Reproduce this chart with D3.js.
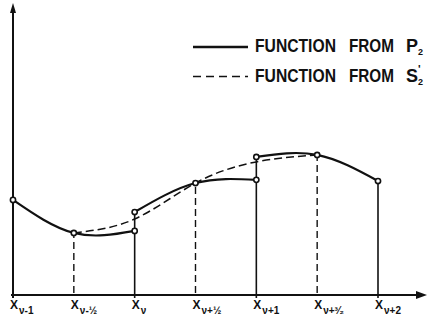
<!DOCTYPE html>
<html>
<head>
<meta charset="utf-8">
<script src="https://cdn.jsdelivr.net/npm/d3@7"></script>
<style>
  body { margin: 0; background: #fff; }
  svg { display: block; }
  text { font-family: "Liberation Sans", Arial, sans-serif; font-weight: bold; fill: #111; }
</style>
</head>
<body>
<svg class="chart"></svg>
<script>
const width = 432;
const height = 329;

// nodes on the x axis, in steps of h (x_{v-1} = 0)
const nodes = [0, 0.5, 1, 1.5, 2, 2.5, 3];
const nodeSubs = ['ν-1', 'ν-½', 'ν', 'ν+½', 'ν+1', 'ν+³⁄₂', 'ν+2'];

// function from P2: three quadratic pieces, with jumps at x_v and x_{v+1}
const pieceX = [[0, 0.5, 1], [1, 1.5, 2], [2, 2.5, 3]];
const pieceY = [[32.8, 21.4, 22.1], [28.6, 38.6, 39.7], [47.6, 48.3, 39.3]];

// function from S'2 (dashed)
const splineX = [0.5, 1, 1.5, 2, 2.5];
const splineY = [21.4, 26.2, 38.6, 45.9, 48.3];

const legendWords = ['FUNCTION', 'FROM'];
const legendSymbols = ['P', 'S'];

const chart = d3.select('.chart')
    .attr('width', width)
    .attr('height', height);

const xScale = d3.scaleLinear().domain([0, 3]).range([13, 378]);
const yScale = d3.scaleLinear().domain([0, 100]).range([295, 5]);

const line = d3.line()
    .x(d => xScale(d[0]))
    .y(d => yScale(d[1]))
    .curve(d3.curveNatural);

/*----- AXES ------*/
chart.append('line')
    .attr('x1', xScale(0)).attr('x2', xScale(0))
    .attr('y1', yScale(0) + 3).attr('y2', 10)
    .attr('stroke', '#111').attr('stroke-width', 2);
chart.append('path')
    .attr('d', `M${xScale(0)},3 L${xScale(0) - 3},13 L${xScale(0) + 3},13 Z`)
    .attr('fill', '#111');

chart.append('line')
    .attr('x1', xScale(0) - 2).attr('x2', 420)
    .attr('y1', yScale(0)).attr('y2', yScale(0))
    .attr('stroke', '#111').attr('stroke-width', 2);
chart.append('path')
    .attr('d', `M427,${yScale(0)} L416,${yScale(0) - 4} L416,${yScale(0) + 4} Z`)
    .attr('fill', '#111');

/*----- VERTICALS ------*/
// top value at each node (highest point of the P2 pieces)
const topAt = x => d3.max(pieceX.flatMap((xs, i) => xs.map((v, j) => v === x ? pieceY[i][j] : -Infinity)));

chart.selectAll('.vert')
    .data(nodes.slice(1))
    .enter()
    .append('line')
    .attr('class', 'vert')
    .attr('x1', d => xScale(d)).attr('x2', d => xScale(d))
    .attr('y1', d => Number.isInteger(d) ? yScale(0) + 3 : yScale(0) - 2)
    .attr('y2', d => yScale(topAt(d)))
    .attr('stroke', '#111')
    .attr('stroke-width', d => Number.isInteger(d) ? 1.6 : 1.4)
    .attr('stroke-dasharray', d => Number.isInteger(d) ? null : '7,4');

/*----- CURVES ------*/
chart.append('path')
    .attr('d', line(d3.zip(splineX, splineY)))
    .attr('fill', 'none')
    .attr('stroke', '#111')
    .attr('stroke-width', 1.5)
    .attr('stroke-dasharray', '8,4');

chart.selectAll('.piece')
    .data(pieceX.map((xs, i) => d3.zip(xs, pieceY[i])))
    .enter()
    .append('path')
    .attr('class', 'piece')
    .attr('d', line)
    .attr('fill', 'none')
    .attr('stroke', '#111')
    .attr('stroke-width', 2.2);

chart.selectAll('.node')
    .data(pieceX.flatMap((xs, i) => d3.zip(xs, pieceY[i])))
    .enter()
    .append('circle')
    .attr('class', 'node')
    .attr('cx', d => xScale(d[0]))
    .attr('cy', d => yScale(d[1]))
    .attr('r', 2.6)
    .attr('fill', '#fff')
    .attr('stroke', '#111')
    .attr('stroke-width', 1.6);

/*----- TICK LABELS ------*/
const tickLabels = chart.selectAll('.tick-label')
    .data(nodes)
    .enter()
    .append('text')
    .attr('class', 'tick-label')
    .attr('x', d => xScale(d) - 3)
    .attr('y', 309)
    .style('font-size', '12px');
tickLabels.append('tspan').text('X');
tickLabels.append('tspan')
    .attr('dx', 1)
    .attr('dy', 5)
    .style('font-size', '10px')
    .text((d, i) => nodeSubs[i]);

/*----- LEGEND ------*/
const legend = chart.selectAll('.legend')
    .data(legendSymbols)
    .enter()
    .append('g')
    .attr('class', 'legend')
    .attr('transform', (d, i) => `translate(0, ${52 + i * 29.5})`);

legend.append('line')
    .attr('x1', 193).attr('x2', 248)
    .attr('y1', -5).attr('y2', -5)
    .attr('stroke', '#111')
    .attr('stroke-width', (d, i) => i === 0 ? 2.4 : 1.5)
    .attr('stroke-dasharray', (d, i) => i === 0 ? null : '8,5');

legend.append('text')
    .attr('x', 255)
    .attr('textLength', 81)
    .attr('lengthAdjust', 'spacingAndGlyphs')
    .style('font-size', '18px')
    .text(legendWords[0]);
legend.append('text')
    .attr('x', 349)
    .attr('textLength', 45)
    .attr('lengthAdjust', 'spacingAndGlyphs')
    .style('font-size', '18px')
    .text(legendWords[1]);
legend.append('text')
    .attr('x', 406)
    .style('font-size', '18px')
    .text(d => d);
legend.append('text')
    .attr('x', 418)
    .attr('y', 3)
    .style('font-size', '9px')
    .text('2');
legend.filter((d, i) => i === 1)
    .append('text')
    .attr('x', 418)
    .attr('y', -9)
    .style('font-size', '11px')
    .text('\'');
</script>
</body>
</html>
